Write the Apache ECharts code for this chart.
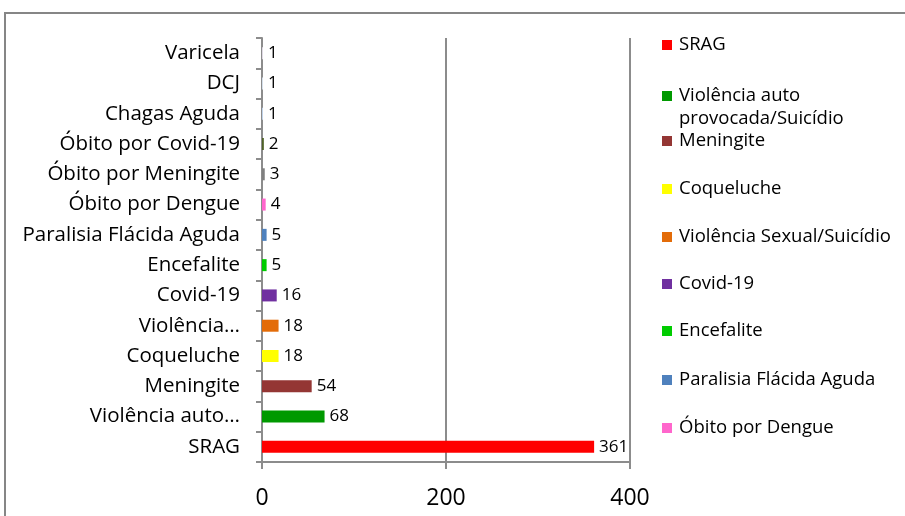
<!DOCTYPE html>
<html>
<head>
<meta charset="utf-8">
<script src="https://cdn.jsdelivr.net/npm/echarts@6/dist/echarts.min.js"></script>
<style>html,body{margin:0;padding:0;background:#fff}#c{width:905px;height:516px}</style>
</head>
<body>
<div id="c"></div>
<script>
// Data (bottom to top on the chart)
var categories = ['SRAG','Violência auto provocada/Suicídio','Meningite','Coqueluche','Violência Sexual/Suicídio','Covid-19','Encefalite','Paralisia Flácida Aguda','Óbito por Dengue','Óbito por Meningite','Óbito por Covid-19','Chagas Aguda','DCJ','Varicela'];
var axisLabels = ['SRAG','Violência auto…','Meningite','Coqueluche','Violência…','Covid-19','Encefalite','Paralisia Flácida Aguda','Óbito por Dengue','Óbito por Meningite','Óbito por Covid-19','Chagas Aguda','DCJ','Varicela'];
var values = [361, 68, 54, 18, 18, 16, 5, 5, 4, 3, 2, 1, 1, 1];
var colors = ['#FF0000','#009900','#943634','#FFFF00','#E36C09','#7030A0','#00CC00','#4F81BD','#FF66CC','#7F7F7F','#4F6228','#C6D9F1','#DCE6F2','#E6E0EC'];
var xTicks = [0, 200, 400];

var FONT = '"Open Sans", "Noto Sans", sans-serif';
var series = categories.map(function (name, i) {
  var d = categories.map(function (c, j) { return j === i ? values[i] : '-'; });
  return {
    name: name, type: 'bar', stack: 'total', barWidth: 12,
    itemStyle: { color: colors[i] },
    label: { show: true, position: 'right', distance: 5, color: '#000', fontSize: 17, fontFamily: FONT },
    data: d
  };
});

// legend entries (only the first nine are visible in the reference)
var legendCenters = [45, 96, 141, 189, 237, 284, 331, 380, 428];
var legends = legendCenters.map(function (cy, i) {
  var two = i === 1;
  return {
    orient: 'vertical', left: 662, top: two ? cy - 34.5 : cy - 11.5,
    itemWidth: 14, itemHeight: 10, icon: 'path://M0,0h10v10h-10z', itemSymbolKeepAspect: true, padding: 0,
    textStyle: { fontSize: 18.5, fontFamily: FONT, color: '#000', lineHeight: 23 },
    formatter: function (n) { return n === categories[1] ? '\nViolência auto\nprovocada/Suicídio' : n; },
    data: [categories[i]]
  };
});

var chart = echarts.init(document.getElementById('c'), null, { renderer: 'canvas' });
chart.setOption({
  animation: false,
  backgroundColor: '#fff',
  graphic: [{ type: 'rect', shape: { x: 5, y: 13, width: 1200, height: 1000 }, style: { fill: 'none', stroke: '#868686', lineWidth: 2 }, z: 100, silent: true }],
  grid: { left: 262, right: 275, top: 38, bottom: 54 },
  legend: legends,
  xAxis: {
    type: 'value', min: xTicks[0], max: xTicks[xTicks.length - 1], interval: 200,
    axisLine: { show: true, lineStyle: { color: '#8c8c8c', width: 2 } },
    axisTick: { show: true, length: 7, lineStyle: { color: '#8c8c8c', width: 2 } },
    splitLine: { show: true, lineStyle: { color: '#8c8c8c', width: 2 } },
    axisLabel: { fontSize: 23, fontFamily: FONT, color: '#000', margin: 25 }
  },
  yAxis: {
    type: 'category', data: categories,
    axisLine: { show: true, lineStyle: { color: '#8c8c8c', width: 2 } },
    axisTick: { show: true, length: 6, lineStyle: { color: '#8c8c8c', width: 2 } },
    axisLabel: { fontSize: 20.5, fontFamily: FONT, color: '#000', margin: 22, formatter: function (v, i) { return axisLabels[i]; } }
  },
  series: series
});
</script>
</body>
</html>
